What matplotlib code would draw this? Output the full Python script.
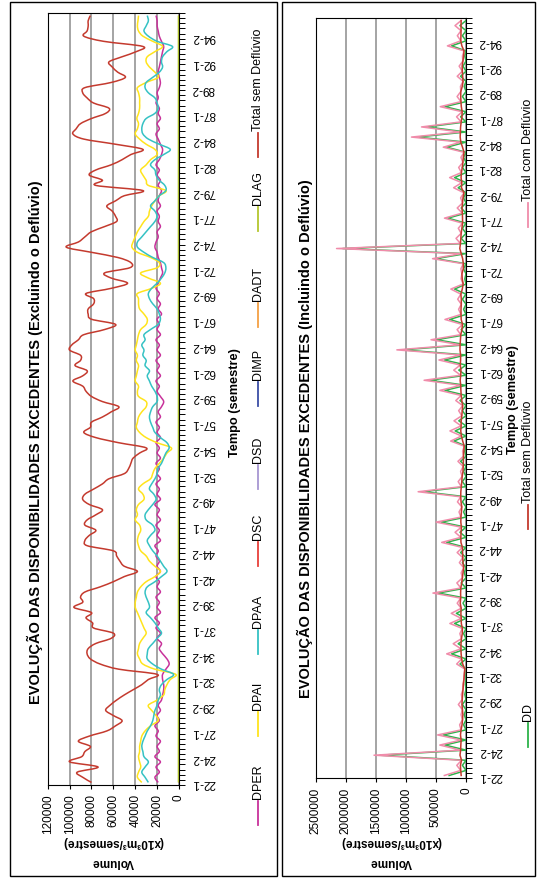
import numpy as np
import matplotlib
matplotlib.use("Agg")
import matplotlib.pyplot as plt
from matplotlib.lines import Line2D
from matplotlib.patches import Rectangle, PathPatch
from matplotlib.path import Path

plt.rcParams["font.family"] = ["Liberation Sans", "DejaVu Sans"]

W, H = 539, 879

# semesters 22-1 ... 96-2
SEMESTERS = [f"{y}-{s}" for y in range(22, 97) for s in (1, 2)]
N = len(SEMESTERS)

# ---- left chart (x10^3 m3/semestre) ----
DPER = [
    19000, 22000, 18000, 21000, 17000, 22000, 18000, 20000, 17000, 21000,
    19000, 22000, 18000, 20000, 17000, 19000, 16000, 15000, 14000, 14000,
    15000, 15000, 12000, 9000, 11000, 15000, 18000, 16000, 20000, 17000,
    21000, 18000, 22000, 17000, 20000, 18000, 21000, 17000, 20000, 18000,
    21000, 17000, 20000, 18000, 21000, 19000, 22000, 17000, 20000, 18000,
    21000, 17000, 20000, 18000, 22000, 17000, 20000, 18000, 21000, 17000,
    20000, 18000, 21000, 17000, 20000, 18000, 21000, 17000, 20000, 18000,
    21000, 17000, 19000, 16000, 14000, 17000, 20000, 18000, 21000, 17000,
    20000, 18000, 21000, 17000, 20000, 18000, 21000, 17000, 20000, 18000,
    20000, 16000, 19000, 17000, 20000, 18000, 21000, 19000, 17000, 15000,
    16000, 17000, 19000, 20000, 22000, 21000, 19000, 20000, 17000, 19000,
    18000, 20000, 17000, 19000, 18000, 16000, 19000, 17000, 20000, 18000,
    21000, 18000, 16000, 15000, 17000, 19000, 21000, 18000, 20000, 17000,
    19000, 18000, 21000, 19000, 20000, 18000, 17000, 18000, 19000, 18000,
    17000, 16000, 15000, 14000, 16000, 18000, 19000, 20000, 20000, 21000,
]
DPAI = [
    34000, 38000, 37000, 35000, 36000, 37000, 36000, 36000, 35000, 34000,
    31000, 26000, 19000, 21000, 25000, 28000, 20000, 14000, 13000, 11000,
    8000, 3000, 22000, 33000, 36000, 38000, 37000, 36000, 33000, 30000,
    32000, 34000, 36000, 38000, 40000, 40000, 39000, 38000, 35000, 30000,
    22000, 17000, 22000, 27000, 30000, 35000, 37000, 38000, 37000, 35000,
    36000, 40000, 38000, 39000, 37000, 32000, 33000, 37000, 33000, 26000,
    24000, 22000, 18000, 14000, 11000, 7000, 20000, 30000, 36000, 39000,
    38000, 37000, 34000, 30000, 30000, 37000, 38000, 37000, 40000, 39000,
    38000, 37000, 39000, 38000, 40000, 39000, 38000, 37000, 35000, 30000,
    29000, 32000, 36000, 37000, 37000, 38000, 25000, 17000, 28000, 35000,
    20000, 18000, 26000, 38000, 43000, 42000, 40000, 38000, 35000, 32000,
    28000, 27000, 25000, 22000, 18000, 12000, 28000, 30000, 33000, 35000,
    30000, 26000, 20000, 22000, 30000, 36000, 40000, 38000, 37000, 38500,
    37000, 36000, 36000, 36000, 37000, 38000, 30000, 19000, 22000, 27000,
    30000, 29000, 22000, 15000, 24000, 33000, 37000, 38000, 37500, 37000,
]
DPAA = [
    28000, 31000, 34000, 31000, 28000, 32000, 33000, 34000, 33000, 31000,
    29000, 26000, 24000, 23000, 22000, 20000, 19000, 17000, 18000, 16000,
    11000, 5000, 16000, 24000, 29000, 29000, 28000, 24000, 20000, 16000,
    19000, 22000, 26000, 30000, 27000, 28000, 30000, 31000, 29000, 22000,
    16000, 11000, 14000, 17000, 20000, 24000, 27000, 29000, 26000, 22000,
    24000, 30000, 31000, 28000, 24000, 21000, 23000, 27000, 25000, 22000,
    20000, 19000, 16000, 14000, 12000, 9000, 11000, 17000, 22000, 24000,
    26000, 27000, 26000, 24000, 20000, 20000, 22000, 25000, 27000, 29000,
    27000, 31000, 30000, 33000, 32000, 34000, 31000, 32000, 26000, 19000,
    17000, 18000, 20000, 24000, 27000, 28000, 25000, 20000, 16000, 13000,
    12000, 14000, 24000, 32000, 38000, 38000, 34000, 30000, 26000, 22000,
    20000, 22000, 26000, 22000, 18000, 12000, 13000, 18000, 21000, 22000,
    26000, 22000, 14000, 8000, 18000, 28000, 33000, 34000, 33000, 30000,
    22000, 19000, 20000, 22000, 28000, 31000, 30000, 24000, 18000, 15000,
    16000, 15000, 11000, 6000, 20000, 28000, 32000, 30000, 28000, 29000,
]
# series that stay on the zero line at this scale
DSC = [150] * N
DSD = [100] * N
DIMP = [100] * N
DADT = [200] * N
DLAG = [500] * N
TOTAL_SEM = [
    80000, 88000, 93000, 74000, 100000, 89000, 86000, 81000, 92000, 82000,
    66000, 58000, 52000, 60000, 67000, 63000, 57000, 50000, 42000, 34000,
    28000, 20000, 55000, 72000, 81000, 84000, 83000, 76000, 62000, 60000,
    78000, 79000, 85000, 80000, 96000, 88000, 90000, 86000, 72000, 60000,
    50000, 38000, 50000, 54000, 57000, 60000, 84000, 86000, 82000, 76000,
    86000, 84000, 76000, 70000, 82000, 88000, 86000, 78000, 70000, 64000,
    50000, 46000, 44000, 42000, 36000, 30000, 55000, 76000, 87000, 81000,
    80000, 70000, 62000, 55000, 70000, 80000, 85000, 88000, 97000, 88000,
    84000, 95000, 90000, 90000, 100000, 98000, 92000, 87000, 68000, 58000,
    80000, 83000, 83000, 78000, 78000, 85000, 62000, 47000, 62000, 68000,
    45000, 44000, 56000, 80000, 103000, 92000, 86000, 80000, 68000, 57000,
    58000, 61000, 66000, 58000, 50000, 33000, 76000, 70000, 82000, 76000,
    62000, 52000, 44000, 33000, 58000, 87000, 97000, 94000, 90000, 80000,
    67000, 64000, 78000, 84000, 88000, 86000, 62000, 49000, 56000, 61000,
    64000, 52000, 39000, 33000, 69000, 87000, 84000, 83000, 83000, 81000,
]

# ---- right chart ----
DD = [
    280000, 0, 60000, 0, 1430000, 0, 350000, 0, 380000, 0,
    40000, 0, 30000, 0, 60000, 0, 20000, 0, 10000, 0,
    0, 0, 100000, 0, 240000, 0, 130000, 0, 40000, 0,
    190000, 0, 160000, 0, 50000, 0, 460000, 0, 80000, 0,
    30000, 0, 60000, 0, 90000, 0, 320000, 0, 100000, 0,
    410000, 0, 40000, 0, 60000, 0, 710000, 0, 60000, 0,
    40000, 0, 90000, 0, 20000, 0, 200000, 0, 180000, 0,
    120000, 0, 60000, 0, 100000, 0, 350000, 0, 600000, 0,
    120000, 0, 360000, 0, 1050000, 0, 490000, 0, 80000, 0,
    270000, 0, 40000, 0, 60000, 0, 190000, 0, 20000, 0,
    40000, 0, 500000, 0, 2050000, 0, 80000, 0, 60000, 0,
    300000, 0, 80000, 0, 40000, 0, 130000, 0, 190000, 0,
    60000, 0, 40000, 0, 320000, 0, 810000, 0, 650000, 0,
    90000, 0, 350000, 0, 60000, 0, 30000, 0, 90000, 0,
    50000, 0, 20000, 0, 240000, 0, 60000, 0, 100000, 0,
]
TOTAL_COM = [a + b for a, b in zip(TOTAL_SEM, DD)]

LEFT_SERIES = [
    ("DPER", DPER, "#C8329B"),
    ("DPAI", DPAI, "#FFE41C"),
    ("DPAA", DPAA, "#35C2C4"),
    ("DSC", DSC, "#E8403A"),
    ("DSD", DSD, "#A796D2"),
    ("DIMP", DIMP, "#3C4EA6"),
    ("DADT", DADT, "#F5A044"),
    ("DLAG", DLAG, "#B4C62E"),
    ("Total sem Deflúvio", TOTAL_SEM, "#C43A2E"),
]
RIGHT_SERIES = [
    ("DD", DD, "#2DB34A"),
    ("Total com Deflúvio", TOTAL_COM, "#F08CAA"),
    ("Total sem Deflúvio", TOTAL_SEM, "#C43A2E"),
]


def fx(px):
    return px / W


def fy(py):
    return 1 - py / H


def smooth_line(ax, vals, idx, color, lw=1.1):
    """Excel-like smoothed line: cubic Bezier through every data point."""
    p = np.column_stack([np.asarray(vals, float), idx.astype(float)])
    verts = [p[0]]
    codes = [Path.MOVETO]
    for i in range(len(p) - 1):
        p0 = p[i - 1] if i > 0 else p[i]
        p3 = p[i + 2] if i + 2 < len(p) else p[i + 1]
        c1 = p[i] + (p[i + 1] - p0) / 6.0
        c2 = p[i + 1] - (p3 - p[i]) / 6.0
        verts += [c1, c2, p[i + 1]]
        codes += [Path.CURVE4] * 3
    ax.add_patch(PathPatch(Path(verts, codes), fill=False, edgecolor=color,
                           linewidth=lw, joinstyle="round"))


def setup_axis(ax, vmax, step):
    idx = np.arange(N)
    ax.set_xlim(vmax, 0)
    ax.set_ylim(-0.5, N - 0.5)
    ax.set_xticks(np.arange(0, vmax + 1, step))
    ax.set_xticklabels([str(int(v)) for v in np.arange(0, vmax + 1, step)],
                       rotation=90, fontsize=8.5)
    ax.tick_params(axis="x", length=3, width=0.8, pad=3)
    ax.yaxis.tick_right()
    ax.set_yticks(idx[::5])
    ax.set_yticklabels(SEMESTERS[::5], rotation=180, fontsize=8.5,
                       va="center")
    ax.set_yticks(np.arange(-0.5, N, 1), minor=True)
    ax.tick_params(axis="y", which="major", length=0, pad=9)
    ax.tick_params(axis="y", which="minor", length=4, width=0.7,
                   direction="out")
    ax.grid(axis="x", color="#8c8c8c", linewidth=1.1)
    ax.set_axisbelow(True)
    for sp in ax.spines.values():
        sp.set_color("black")
        sp.set_linewidth(0.8)
    return idx


fig = plt.figure(figsize=(W / 100, H / 100), dpi=100)

# panel frames
for x0, x1 in ((10, 277), (282, 535)):
    fig.add_artist(Rectangle((fx(x0), fy(877)), fx(x1) - fx(x0),
                             fy(3) - fy(877), transform=fig.transFigure,
                             fill=False, edgecolor="black", linewidth=1.0))

# left chart
axL = fig.add_axes([fx(47.7), fy(786), fx(179) - fx(47.7), fy(14) - fy(786)])
idx = setup_axis(axL, 120000, 20000)
for name, vals, col in LEFT_SERIES:
    smooth_line(axL, vals, idx, col)

# right chart
axR = fig.add_axes([fx(315.7), fy(779), fx(466) - fx(315.7), fy(19) - fy(779)])
setup_axis(axR, 2500000, 500000)
for name, vals, col in RIGHT_SERIES:
    axR.plot(vals, idx, color=col, linewidth=1.1, solid_joinstyle="round")

# titles
fig.text(fx(35), fy(442), "EVOLUÇÃO DAS DISPONIBILIDADES EXCEDENTES (Excluindo o Deflúvio)",
         rotation=90, ha="center", va="center", fontsize=10.5, fontweight="bold")
fig.text(fx(305), fy(439), "EVOLUÇÃO DAS DISPONIBILIDADES EXCEDENTES (Incluindo o Deflúvio)",
         rotation=90, ha="center", va="center", fontsize=10.5, fontweight="bold")

# axis titles
for xc, yc in ((235, 403), (513, 400)):
    fig.text(fx(xc), fy(yc), "Tempo (semestre)", rotation=90, ha="center",
             va="center", fontsize=9.2, fontweight="bold")
for xc in (113, 391):
    fig.text(fx(xc), fy(842), "(x10³m³/semestre)", rotation=180, ha="center",
             va="center", fontsize=8.5, fontweight="bold")
    fig.text(fx(xc), fy(862), "Volume", rotation=180, ha="center",
             va="center", fontsize=8.5, fontweight="bold")


# legends drawn as rotated entries
def legend_entry(xc, ybot, name, col, length=24):
    fig.add_artist(Line2D([fx(xc), fx(xc)], [fy(ybot), fy(ybot - length)],
                          transform=fig.transFigure, color=col, linewidth=1.3))
    fig.text(fx(xc), fy(ybot - length - 3), name, rotation=90, ha="center",
             va="bottom", fontsize=9)


LEFT_LEG_Y = [826, 737, 655, 567, 490, 407, 328, 232, 158]
for (name, vals, col), yb in zip(LEFT_SERIES, LEFT_LEG_Y):
    legend_entry(258, yb, name, col)

RIGHT_LEG_Y = [748, 228, 530]
for (name, vals, col), yb in zip(RIGHT_SERIES, RIGHT_LEG_Y):
    legend_entry(528, yb, name, col)

fig.savefig("out.png", dpi=100)
